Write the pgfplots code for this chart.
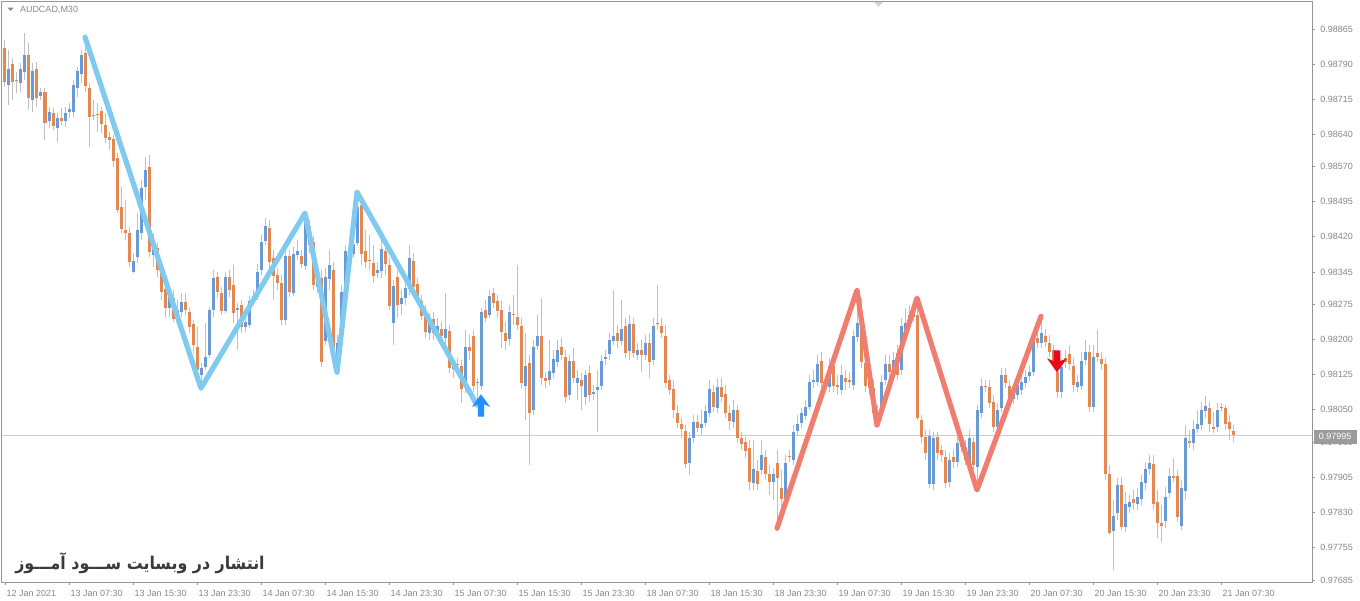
\documentclass[border=0pt]{standalone}
\usepackage{fontspec}
\setmainfont{Liberation Sans}
\newfontfamily\persianfont[Script=Arabic]{DejaVu Sans}
\TeXXeTstate=1
\usepackage{pgfplots}
\pgfplotsset{compat=1.18}
\usepackage{pgfplotstable}

\definecolor{bullc}{RGB}{104,155,214}
\definecolor{bearc}{RGB}{226,136,80}
\definecolor{wickc}{RGB}{192,192,192}
\definecolor{framec}{RGB}{150,150,150}
\definecolor{labelc}{RGB}{135,135,135}
\definecolor{pricec}{RGB}{205,205,205}
\definecolor{boxc}{RGB}{155,155,155}
\definecolor{zzblue}{RGB}{128,202,240}
\definecolor{zzred}{RGB}{240,126,112}
\definecolor{arblue}{RGB}{30,144,255}
\definecolor{arred}{RGB}{232,10,25}
\definecolor{textc}{RGB}{58,58,58}

% MT4 arrows, tip at the data point
\pgfdeclareplotmark{mtup}{%
  \pgfpathmoveto{\pgfqpoint{0pt}{0pt}}%
  \pgfpathlineto{\pgfqpoint{4.6pt}{-6.3pt}}%
  \pgfpathlineto{\pgfqpoint{1.6pt}{-5pt}}%
  \pgfpathlineto{\pgfqpoint{1.6pt}{-11.2pt}}%
  \pgfpathlineto{\pgfqpoint{-1.6pt}{-11.2pt}}%
  \pgfpathlineto{\pgfqpoint{-1.6pt}{-5pt}}%
  \pgfpathlineto{\pgfqpoint{-4.6pt}{-6.3pt}}%
  \pgfpathclose\pgfusepathqfill}
\pgfdeclareplotmark{mtdown}{%
  \pgfpathmoveto{\pgfqpoint{0pt}{0pt}}%
  \pgfpathlineto{\pgfqpoint{5pt}{7pt}}%
  \pgfpathlineto{\pgfqpoint{1.7pt}{5.6pt}}%
  \pgfpathlineto{\pgfqpoint{1.7pt}{11pt}}%
  \pgfpathlineto{\pgfqpoint{-1.7pt}{11pt}}%
  \pgfpathlineto{\pgfqpoint{-1.7pt}{5.6pt}}%
  \pgfpathlineto{\pgfqpoint{-5pt}{7pt}}%
  \pgfpathclose\pgfusepathqfill}

% AUDCAD M30 bars: index, open, high, low, close
\pgfplotstableread{
i o h l c
1 0.98824 0.98841 0.98741 0.98751
2 0.98745 0.98820 0.98702 0.98779
3 0.98790 0.98803 0.98713 0.98751
4 0.98756 0.98773 0.98728 0.98754
5 0.98749 0.98792 0.98730 0.98779
6 0.98773 0.98856 0.98756 0.98809
7 0.98809 0.98835 0.98691 0.98717
8 0.98713 0.98792 0.98687 0.98775
9 0.98779 0.98794 0.98698 0.98717
10 0.98721 0.98739 0.98713 0.98730
11 0.98730 0.98739 0.98627 0.98664
12 0.98668 0.98698 0.98653 0.98687
13 0.98685 0.98696 0.98649 0.98657
14 0.98653 0.98685 0.98623 0.98674
15 0.98674 0.98696 0.98659 0.98668
16 0.98668 0.98698 0.98655 0.98685
17 0.98687 0.98706 0.98674 0.98694
18 0.98687 0.98756 0.98676 0.98745
19 0.98739 0.98784 0.98719 0.98775
20 0.98769 0.98820 0.98749 0.98809
21 0.98814 0.98848 0.98730 0.98743
22 0.98739 0.98749 0.98612 0.98676
23 0.98681 0.98713 0.98670 0.98679
24 0.98683 0.98706 0.98644 0.98681
25 0.98689 0.98698 0.98642 0.98661
26 0.98659 0.98685 0.98621 0.98631
27 0.98634 0.98644 0.98606 0.98627
28 0.98629 0.98638 0.98569 0.98582
29 0.98589 0.98599 0.98471 0.98477
30 0.98484 0.98527 0.98428 0.98437
31 0.98434 0.98499 0.98413 0.98428
32 0.98428 0.98441 0.98355 0.98366
33 0.98344 0.98385 0.98342 0.98368
34 0.98377 0.98471 0.98364 0.98434
35 0.98428 0.98542 0.98413 0.98524
36 0.98527 0.98591 0.98499 0.98563
37 0.98569 0.98595 0.98377 0.98387
38 0.98381 0.98428 0.98355 0.98398
39 0.98396 0.98407 0.98334 0.98349
40 0.98344 0.98364 0.98285 0.98302
41 0.98308 0.98321 0.98248 0.98267
42 0.98267 0.98306 0.98248 0.98293
43 0.98289 0.98306 0.98237 0.98244
44 0.98242 0.98285 0.98231 0.98263
45 0.98259 0.98300 0.98248 0.98280
46 0.98280 0.98300 0.98252 0.98263
47 0.98259 0.98270 0.98214 0.98227
48 0.98233 0.98242 0.98171 0.98188
49 0.98184 0.98227 0.98113 0.98135
50 0.98124 0.98150 0.98096 0.98139
51 0.98141 0.98235 0.98135 0.98162
52 0.98167 0.98270 0.98160 0.98263
53 0.98263 0.98349 0.98248 0.98332
54 0.98334 0.98344 0.98289 0.98302
55 0.98300 0.98312 0.98252 0.98261
56 0.98261 0.98344 0.98257 0.98334
57 0.98334 0.98349 0.98291 0.98306
58 0.98317 0.98359 0.98235 0.98257
59 0.98263 0.98278 0.98177 0.98267
60 0.98274 0.98285 0.98214 0.98227
61 0.98227 0.98252 0.98216 0.98237
62 0.98231 0.98293 0.98225 0.98282
63 0.98282 0.98306 0.98274 0.98293
64 0.98291 0.98362 0.98285 0.98344
65 0.98349 0.98424 0.98338 0.98409
66 0.98411 0.98460 0.98402 0.98443
67 0.98439 0.98456 0.98353 0.98366
68 0.98374 0.98392 0.98285 0.98336
69 0.98338 0.98353 0.98306 0.98321
70 0.98321 0.98338 0.98231 0.98242
71 0.98242 0.98392 0.98231 0.98379
72 0.98379 0.98392 0.98291 0.98302
73 0.98300 0.98398 0.98293 0.98383
74 0.98381 0.98413 0.98370 0.98389
75 0.98379 0.98392 0.98353 0.98362
76 0.98357 0.98471 0.98349 0.98449
77 0.98443 0.98456 0.98385 0.98402
78 0.98409 0.98422 0.98306 0.98317
79 0.98312 0.98344 0.98300 0.98330
80 0.98332 0.98349 0.98141 0.98152
81 0.98197 0.98353 0.98188 0.98334
82 0.98330 0.98392 0.98306 0.98359
83 0.98349 0.98366 0.98156 0.98167
84 0.98156 0.98210 0.98130 0.98192
85 0.98188 0.98317 0.98177 0.98302
86 0.98300 0.98402 0.98291 0.98389
87 0.98392 0.98402 0.98379 0.98394
88 0.98383 0.98424 0.98374 0.98404
89 0.98407 0.98516 0.98400 0.98484
90 0.98488 0.98503 0.98359 0.98383
91 0.98389 0.98434 0.98353 0.98366
92 0.98370 0.98424 0.98349 0.98368
93 0.98364 0.98402 0.98321 0.98336
94 0.98342 0.98366 0.98332 0.98349
95 0.98347 0.98413 0.98332 0.98394
96 0.98389 0.98402 0.98338 0.98362
97 0.98359 0.98374 0.98263 0.98272
98 0.98235 0.98327 0.98188 0.98315
99 0.98334 0.98349 0.98246 0.98274
100 0.98276 0.98306 0.98252 0.98289
101 0.98289 0.98323 0.98274 0.98310
102 0.98308 0.98402 0.98295 0.98374
103 0.98368 0.98385 0.98302 0.98312
104 0.98319 0.98332 0.98280 0.98291
105 0.98282 0.98295 0.98242 0.98250
106 0.98259 0.98274 0.98203 0.98216
107 0.98214 0.98257 0.98199 0.98244
108 0.98244 0.98259 0.98199 0.98214
109 0.98214 0.98246 0.98199 0.98229
110 0.98222 0.98237 0.98195 0.98208
111 0.98203 0.98300 0.98188 0.98222
112 0.98218 0.98231 0.98128 0.98139
113 0.98137 0.98160 0.98117 0.98147
114 0.98147 0.98160 0.98130 0.98145
115 0.98143 0.98156 0.98064 0.98094
116 0.98098 0.98220 0.98085 0.98184
117 0.98184 0.98210 0.98156 0.98175
118 0.98208 0.98220 0.98088 0.98100
119 0.98107 0.98117 0.98060 0.98109
120 0.98100 0.98267 0.98092 0.98259
121 0.98263 0.98285 0.98237 0.98246
122 0.98252 0.98306 0.98246 0.98293
123 0.98300 0.98310 0.98267 0.98278
124 0.98282 0.98295 0.98246 0.98261
125 0.98263 0.98285 0.98182 0.98216
126 0.98214 0.98237 0.98177 0.98197
127 0.98201 0.98274 0.98188 0.98259
128 0.98254 0.98295 0.98231 0.98252
129 0.98248 0.98359 0.98220 0.98231
130 0.98229 0.98246 0.98096 0.98107
131 0.98100 0.98214 0.98028 0.98143
132 0.98150 0.98167 0.97931 0.98043
133 0.98049 0.98199 0.98038 0.98184
134 0.98186 0.98252 0.98177 0.98208
135 0.98208 0.98289 0.98103 0.98117
136 0.98117 0.98130 0.98096 0.98111
137 0.98113 0.98199 0.98103 0.98132
138 0.98128 0.98177 0.98117 0.98158
139 0.98152 0.98199 0.98141 0.98177
140 0.98184 0.98203 0.98156 0.98167
141 0.98162 0.98177 0.98064 0.98077
142 0.98081 0.98167 0.98070 0.98154
143 0.98154 0.98182 0.98107 0.98117
144 0.98107 0.98135 0.98070 0.98117
145 0.98113 0.98128 0.98049 0.98100
146 0.98077 0.98135 0.98060 0.98124
147 0.98128 0.98145 0.98066 0.98081
148 0.98083 0.98103 0.98070 0.98088
149 0.98092 0.98135 0.98002 0.98098
150 0.98100 0.98167 0.98092 0.98154
151 0.98158 0.98177 0.98145 0.98162
152 0.98169 0.98214 0.98156 0.98199
153 0.98197 0.98306 0.98188 0.98208
154 0.98214 0.98231 0.98182 0.98197
155 0.98197 0.98285 0.98188 0.98222
156 0.98229 0.98246 0.98160 0.98171
157 0.98175 0.98252 0.98156 0.98233
158 0.98233 0.98246 0.98160 0.98171
159 0.98167 0.98192 0.98156 0.98177
160 0.98177 0.98199 0.98130 0.98167
161 0.98167 0.98210 0.98156 0.98192
162 0.98192 0.98214 0.98117 0.98152
163 0.98156 0.98246 0.98145 0.98229
164 0.98233 0.98317 0.98220 0.98235
165 0.98229 0.98246 0.98203 0.98214
166 0.98208 0.98231 0.98096 0.98107
167 0.98113 0.98124 0.98081 0.98092
168 0.98094 0.98113 0.98032 0.98049
169 0.98043 0.98060 0.98010 0.98021
170 0.98019 0.98032 0.97989 0.98008
171 0.98004 0.98017 0.97925 0.97933
172 0.97935 0.98002 0.97910 0.97989
173 0.97989 0.98038 0.97978 0.98023
174 0.98023 0.98038 0.98002 0.98010
175 0.98010 0.98049 0.97995 0.98019
176 0.98021 0.98060 0.98013 0.98047
177 0.98043 0.98113 0.98034 0.98094
178 0.98088 0.98103 0.98045 0.98055
179 0.98053 0.98117 0.98043 0.98098
180 0.98098 0.98117 0.98066 0.98077
181 0.98083 0.98103 0.98032 0.98043
182 0.98043 0.98060 0.98006 0.98025
183 0.98023 0.98070 0.98010 0.98049
184 0.98049 0.98060 0.97978 0.97989
185 0.97989 0.98002 0.97963 0.97976
186 0.97980 0.97991 0.97946 0.97961
187 0.97968 0.97985 0.97878 0.97895
188 0.97893 0.97985 0.97878 0.97923
189 0.97918 0.97942 0.97878 0.97891
190 0.97920 0.97985 0.97910 0.97953
191 0.97948 0.97963 0.97899 0.97912
192 0.97912 0.97931 0.97867 0.97895
193 0.97895 0.97925 0.97856 0.97912
194 0.97935 0.97963 0.97796 0.97903
195 0.97882 0.97920 0.97813 0.97858
196 0.97860 0.97953 0.97846 0.97935
197 0.97950 0.97963 0.97938 0.97948
198 0.97942 0.98017 0.97931 0.98002
199 0.98004 0.98038 0.97993 0.98019
200 0.98021 0.98053 0.98010 0.98043
201 0.98036 0.98070 0.98028 0.98055
202 0.98055 0.98124 0.98049 0.98109
203 0.98109 0.98135 0.98096 0.98113
204 0.98109 0.98167 0.98100 0.98147
205 0.98154 0.98173 0.98096 0.98107
206 0.98109 0.98124 0.98092 0.98100
207 0.98098 0.98160 0.98088 0.98143
208 0.98143 0.98160 0.98088 0.98100
209 0.98103 0.98124 0.98081 0.98098
210 0.98092 0.98145 0.98081 0.98124
211 0.98117 0.98135 0.98092 0.98109
212 0.98113 0.98130 0.98096 0.98109
213 0.98103 0.98220 0.98092 0.98208
214 0.98206 0.98306 0.98195 0.98235
215 0.98235 0.98289 0.98139 0.98152
216 0.98150 0.98167 0.98088 0.98100
217 0.98109 0.98124 0.98081 0.98096
218 0.98096 0.98113 0.98032 0.98043
219 0.98043 0.98060 0.98017 0.98028
220 0.98038 0.98124 0.98028 0.98109
221 0.98113 0.98167 0.98103 0.98147
222 0.98147 0.98167 0.98117 0.98130
223 0.98137 0.98173 0.98124 0.98156
224 0.98171 0.98188 0.98113 0.98124
225 0.98135 0.98246 0.98124 0.98229
226 0.98220 0.98267 0.98210 0.98235
227 0.98231 0.98274 0.98220 0.98252
228 0.98259 0.98280 0.98237 0.98248
229 0.98252 0.98289 0.98028 0.98032
230 0.98028 0.98038 0.97978 0.97991
231 0.97991 0.98006 0.97942 0.97957
232 0.97891 0.98006 0.97882 0.97993
233 0.97891 0.98002 0.97878 0.97989
234 0.97991 0.98002 0.97942 0.97957
235 0.97963 0.97974 0.97938 0.97953
236 0.97948 0.97963 0.97882 0.97893
237 0.97895 0.97957 0.97884 0.97942
238 0.97948 0.97963 0.97925 0.97938
239 0.97938 0.97991 0.97927 0.97978
240 0.97985 0.97995 0.97959 0.97970
241 0.97970 0.97985 0.97931 0.97942
242 0.97931 0.98006 0.97920 0.97989
243 0.97980 0.97991 0.97920 0.97931
244 0.97927 0.98060 0.97878 0.98049
245 0.98043 0.98117 0.98032 0.98100
246 0.98100 0.98113 0.98088 0.98098
247 0.98098 0.98113 0.98053 0.98064
248 0.98066 0.98081 0.98002 0.98013
249 0.98013 0.98064 0.98002 0.98049
250 0.98053 0.98139 0.98045 0.98124
251 0.98124 0.98139 0.98096 0.98107
252 0.98100 0.98113 0.98064 0.98075
253 0.98073 0.98096 0.98062 0.98085
254 0.98081 0.98117 0.98070 0.98103
255 0.98092 0.98124 0.98081 0.98109
256 0.98107 0.98135 0.98096 0.98120
257 0.98122 0.98145 0.98111 0.98130
258 0.98130 0.98220 0.98122 0.98203
259 0.98203 0.98220 0.98182 0.98192
260 0.98192 0.98250 0.98182 0.98214
261 0.98208 0.98222 0.98184 0.98195
262 0.98192 0.98210 0.98162 0.98173
263 0.98177 0.98188 0.98141 0.98152
264 0.98130 0.98145 0.98075 0.98088
265 0.98088 0.98156 0.98075 0.98141
266 0.98160 0.98177 0.98139 0.98152
267 0.98169 0.98188 0.98135 0.98147
268 0.98143 0.98160 0.98088 0.98103
269 0.98098 0.98124 0.98088 0.98109
270 0.98100 0.98173 0.98092 0.98154
271 0.98156 0.98199 0.98145 0.98173
272 0.98173 0.98188 0.98045 0.98055
273 0.98055 0.98188 0.98045 0.98162
274 0.98171 0.98220 0.98152 0.98162
275 0.98158 0.98173 0.98135 0.98147
276 0.98147 0.98160 0.97899 0.97912
277 0.97912 0.97931 0.97781 0.97786
278 0.97790 0.97856 0.97706 0.97822
279 0.97828 0.97903 0.97813 0.97888
280 0.97888 0.97906 0.97792 0.97798
281 0.97798 0.97873 0.97788 0.97848
282 0.97841 0.97867 0.97828 0.97852
283 0.97858 0.97878 0.97835 0.97850
284 0.97848 0.97882 0.97835 0.97863
285 0.97858 0.97910 0.97846 0.97895
286 0.97893 0.97938 0.97878 0.97923
287 0.97923 0.97953 0.97910 0.97935
288 0.97933 0.97953 0.97835 0.97848
289 0.97852 0.97878 0.97775 0.97807
290 0.97807 0.97846 0.97766 0.97801
291 0.97811 0.97884 0.97796 0.97863
292 0.97871 0.97925 0.97860 0.97908
293 0.97908 0.97946 0.97895 0.97903
294 0.97908 0.97920 0.97809 0.97820
295 0.97801 0.97899 0.97792 0.97882
296 0.97876 0.98017 0.97856 0.97989
297 0.97983 0.98006 0.97968 0.97978
298 0.97978 0.98028 0.97963 0.98008
299 0.98008 0.98049 0.98000 0.98019
300 0.98017 0.98066 0.98006 0.98049
301 0.98047 0.98079 0.98032 0.98058
302 0.98053 0.98066 0.98002 0.98019
303 0.98013 0.98045 0.98000 0.98008
304 0.98013 0.98064 0.98002 0.98049
305 0.98055 0.98064 0.98045 0.98053
306 0.98053 0.98060 0.98006 0.98019
307 0.98023 0.98038 0.97985 0.98008
308 0.98004 0.98017 0.97980 0.97995
}\bars

\begin{document}
\begin{tikzpicture}
\useasboundingbox (0,0) rectangle (680pt,300pt);
\begin{axis}[
  at={(1pt,9pt)}, anchor=south west,
  scale only axis, width=655pt, height=290pt,
  xmin=0.25, xmax=327.75, ymin=0.97681, ymax=0.98923,
  clip=false,
  axis line style={draw=framec, line width=0.5pt},
  tick align=outside, major tick length=1.6pt,
  tick style={draw=framec, line width=0.4pt},
  xtick pos=bottom, ytick pos=right, yticklabel pos=right,
  xtick={1,17,...,305},
  xticklabels={12 Jan 2021,13 Jan 07:30,13 Jan 15:30,13 Jan 23:30,14 Jan 07:30,14 Jan 15:30,14 Jan 23:30,15 Jan 07:30,15 Jan 15:30,15 Jan 23:30,18 Jan 07:30,18 Jan 15:30,18 Jan 23:30,19 Jan 07:30,19 Jan 15:30,19 Jan 23:30,20 Jan 07:30,20 Jan 15:30,20 Jan 23:30,21 Jan 07:30},
  ytick={0.98865,0.98790,0.98715,0.98640,0.98570,0.98495,0.98420,0.98345,0.98275,0.98200,0.98125,0.98050,0.97980,0.97905,0.97830,0.97755,0.97685},
  yticklabels={0.98865,0.98790,0.98715,0.98640,0.98570,0.98495,0.98420,0.98345,0.98275,0.98200,0.98125,0.98050,0.97980,0.97905,0.97830,0.97755,0.97685},
  tick label style={font=\fontsize{4.5}{5.2}\selectfont, text=labelc},
  xticklabel style={anchor=north west, inner sep=0pt, xshift=0.6pt, yshift=-2.5pt},
  yticklabel style={anchor=west, inner sep=0pt, xshift=2.4pt},
]
% current bid line
\addplot [pricec, line width=0.5pt, forget plot] coordinates {(0.25,0.97995) (327.75,0.97995)};
% wicks
\addplot [draw=none, forget plot, error bars/.cd, y dir=minus, y explicit, error mark=none,
  error bar style={draw=wickc, line width=0.5pt}]
  table [x=i, y=h, y error minus expr=\thisrow{h}-\thisrow{l}] {\bars};
% bodies
\addplot [draw=none, forget plot, x filter/.expression={\thisrow{c}>=\thisrow{o} ? x : nan},
  error bars/.cd, y dir=minus, y explicit, error mark=none,
  error bar style={draw=bullc, line width=1.5pt}]
  table [x=i, y=c, y error minus expr=\thisrow{c}-\thisrow{o}] {\bars};
\addplot [draw=none, forget plot, x filter/.expression={\thisrow{c}<\thisrow{o} ? x : nan},
  error bars/.cd, y dir=minus, y explicit, error mark=none,
  error bar style={draw=bearc, line width=1.5pt}]
  table [x=i, y=o, y error minus expr=\thisrow{o}-\thisrow{c}] {\bars};
% zigzag legs
\addplot [zzblue, line width=2.6pt, line join=round, line cap=round] coordinates {
  (21,0.98848) (50,0.98096) (76,0.98471) (84,0.98130) (89,0.98516) (119,0.98060)};
\addplot [zzred, line width=2.6pt, line join=round, line cap=round] coordinates {
  (194,0.97796) (214,0.98306) (219,0.98017) (229,0.98289) (244,0.97878) (260,0.98250)};
% signal arrows
\addplot [only marks, mark=mtup, color=arblue] coordinates {(120,0.98083)};
\addplot [only marks, mark=mtdown, color=arred] coordinates {(264,0.98130)};
\end{axis}
% chart furniture
\fill[labelc] (3.8pt,296.2pt) -- (6.8pt,296.2pt) -- (5.3pt,294.5pt) -- cycle;
\node[anchor=west, inner sep=0pt, text=labelc, font=\fontsize{4.5}{5.2}\selectfont] at (9.8pt,295.2pt) {AUDCAD,M30};
\fill[gray!35] (437pt,299pt) -- (441.5pt,299pt) -- (439.25pt,296.6pt) -- cycle;
\node[anchor=west, fill=boxc, text=white, inner sep=0pt, minimum width=21.6pt, minimum height=7pt,
  font=\fontsize{4.5}{5.2}\selectfont] at (656.6pt,81.6pt) {0.97995};
\node[anchor=west, inner sep=0pt, text=textc, xscale=0.9, transform shape,
  font=\persianfont\bfseries\fontsize{8.8}{10}\selectfont]
  at (7.5pt,18.6pt) {\beginR انتشار در وبسایت ســـود آمـــوز\endR};
\end{tikzpicture}
\end{document}
